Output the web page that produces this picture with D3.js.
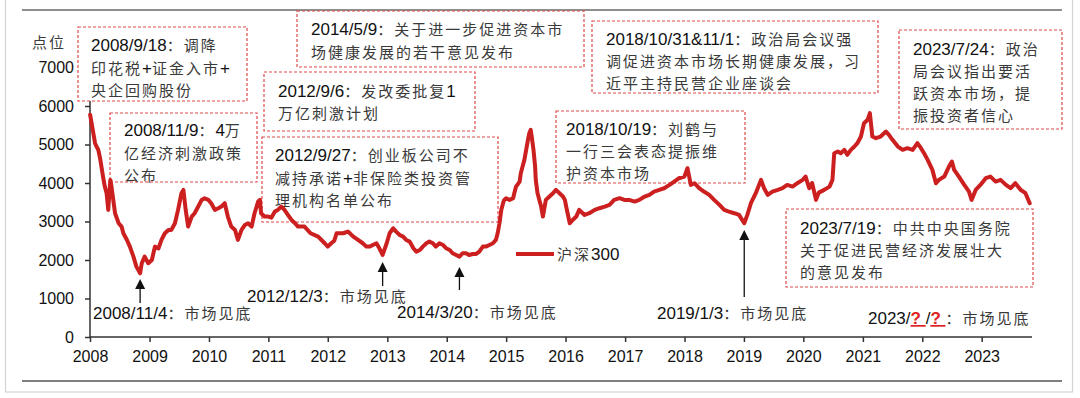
<!DOCTYPE html>
<html><head><meta charset="utf-8">
<script src="https://cdn.jsdelivr.net/npm/d3@7"></script>
<style>
html,body{margin:0;padding:0;background:#fff;}
svg{display:block;}
</style></head>
<body>
<svg id="chart" width="1080" height="398"></svg>
<script>
// ---------- DATA ----------
const seriesName = "沪深300";
const dates = [
"2008-01-02","2008-02-01","2008-02-10","2008-02-21","2008-03-03","2008-03-21","2008-04-01","2008-04-12","2008-04-22","2008-05-05",
"2008-05-12","2008-05-23","2008-06-03","2008-06-25","2008-07-13","2008-07-24","2008-08-15","2008-09-02","2008-09-24","2008-10-12",
"2008-11-04","2008-11-14","2008-12-02","2008-12-24","2009-01-15","2009-02-03","2009-02-25","2009-03-15","2009-04-05","2009-04-27",
"2009-05-15","2009-06-06","2009-06-25","2009-07-16","2009-07-28","2009-08-11","2009-08-26","2009-09-17","2009-10-05","2009-10-27",
"2009-11-17","2009-12-05","2009-12-28","2010-01-15","2010-02-06","2010-02-28","2010-03-18","2010-04-08","2010-04-27","2010-05-18",
"2010-06-10","2010-06-28","2010-07-20","2010-08-10","2010-08-29","2010-09-20","2010-10-08","2010-10-30","2010-11-10","2010-11-17",
"2010-12-09","2010-12-31","2011-01-19","2011-02-10","2011-02-28","2011-03-22","2011-04-10","2011-05-01","2011-05-23","2011-06-14",
"2011-07-02","2011-08-11","2011-09-17","2011-11-03","2011-12-13","2012-01-01","2012-01-22","2012-02-10","2012-02-24","2012-04-05",
"2012-05-04","2012-06-06","2012-07-05","2012-08-03","2012-08-25","2012-09-16","2012-10-04","2012-10-26","2012-11-13","2012-12-03",
"2012-12-28","2013-01-15","2013-02-06","2013-02-24","2013-03-18","2013-04-08","2013-04-27","2013-05-18","2013-06-10","2013-06-28",
"2013-07-20","2013-08-07","2013-08-29","2013-09-16","2013-10-08","2013-10-26","2013-11-17","2013-12-09","2013-12-28","2014-01-19",
"2014-02-06","2014-02-28","2014-03-20","2014-04-08","2014-04-30","2014-05-18","2014-06-10","2014-07-01","2014-07-20","2014-08-11",
"2014-08-29","2014-09-20","2014-10-12","2014-10-30","2014-11-10","2014-11-21","2014-12-02","2014-12-13","2014-12-20","2015-01-01",
"2015-01-22","2015-02-13","2015-02-20","2015-03-03","2015-03-25","2015-04-01","2015-04-12","2015-04-23","2015-05-04","2015-05-15",
"2015-05-23","2015-06-01","2015-06-07","2015-06-18","2015-06-28","2015-07-02","2015-07-13","2015-07-24","2015-08-04","2015-08-15",
"2015-08-22","2015-09-02","2015-09-24","2015-10-16","2015-11-03","2015-11-25","2015-12-16","2015-12-28","2016-01-05","2016-01-27",
"2016-02-14","2016-03-07","2016-03-25","2016-04-27","2016-05-26","2016-06-28","2016-07-27","2016-08-29","2016-09-27","2016-10-26",
"2016-11-28","2016-12-27","2017-01-26","2017-02-28","2017-03-29","2017-05-01","2017-05-30","2017-06-28","2017-07-30","2017-08-29",
"2017-10-01","2017-10-30","2017-11-28","2017-12-31","2018-01-19","2018-02-09","2018-03-03","2018-04-01","2018-04-30","2018-06-02",
"2018-07-02","2018-08-04","2018-09-02","2018-10-01","2018-11-03","2018-12-02","2019-01-03","2019-01-22","2019-02-13","2019-03-15",
"2019-04-16","2019-05-05","2019-05-27","2019-06-25","2019-07-28","2019-08-26","2019-09-24","2019-10-27","2019-11-25","2019-12-28",
"2020-01-15","2020-02-06","2020-02-24","2020-03-19","2020-04-05","2020-05-08","2020-06-10","2020-06-28","2020-07-09","2020-07-31",
"2020-08-18","2020-09-09","2020-09-27","2020-10-19","2020-11-10","2020-11-28","2020-12-20","2021-01-08","2021-01-30","2021-02-13",
"2021-02-28","2021-03-22","2021-04-20","2021-05-23","2021-06-10","2021-07-02","2021-08-04","2021-09-02","2021-10-01","2021-11-03",
"2021-12-02","2021-12-24","2022-01-12","2022-02-03","2022-03-04","2022-03-26","2022-04-13","2022-05-16","2022-06-14","2022-07-02",
"2022-07-16","2022-08-14","2022-09-16","2022-10-15","2022-10-31","2022-11-25","2022-12-24","2023-01-26","2023-02-24","2023-03-28",
"2023-04-27","2023-05-30","2023-06-28","2023-07-27","2023-08-29","2023-09-27","2023-10-23"
];
const values = [
5771,5034,4947,4861,4644,4167,3907,3734,3301,4081,
3907,3561,3215,2955,2868,2695,2521,2348,2088,1828,
1655,1915,2088,1915,2001,2348,2300,2521,2695,2781,
2781,2955,3301,3734,3821,3301,2868,3128,3215,3388,
3561,3605,3561,3475,3301,3345,3388,3475,3128,2868,
2781,2521,2781,2911,2955,2868,3215,3518,3561,3215,
3128,3128,3100,3258,3301,3388,3301,3171,3041,2955,
2868,2868,2695,2608,2435,2348,2435,2500,2695,2695,
2738,2608,2521,2435,2348,2348,2391,2435,2305,2131,
2435,2695,2825,2738,2651,2608,2521,2478,2305,2218,
2261,2348,2435,2478,2435,2348,2435,2391,2305,2261,
2175,2131,2088,2175,2175,2131,2157,2157,2218,2348,
2348,2391,2435,2521,2695,2955,3301,3475,3561,3605,
3561,3605,3734,3907,4037,4254,4427,4601,4861,5121,
5294,5381,5207,4861,4427,4081,3734,3561,3388,3128,
3301,3561,3648,3734,3821,3734,3648,3561,3388,2955,
3041,3128,3301,3171,3215,3301,3345,3388,3431,3561,
3605,3561,3561,3518,3561,3648,3691,3778,3821,3864,
3951,4037,4124,4167,4384,3951,3994,3864,3778,3691,
3561,3431,3301,3258,3215,3171,2955,3171,3475,3734,
4081,3864,3691,3778,3821,3864,3951,3907,3994,4081,
4167,3864,4000,3561,3750,3821,3907,4081,4774,4817,
4774,4861,4731,4861,4947,5034,5207,5554,5641,5814,
5207,5164,5207,5337,5251,5121,4947,4861,4904,4861,
5034,4904,4774,4601,4341,3994,4081,4167,4427,4557,
4341,4167,3951,3778,3561,3821,3951,4124,4167,4037,
4081,3951,3864,3994,3821,3734,3474
];
const yTickValues = [0,1000,2000,3000,4000,5000,6000,7000];
const xTickYears = [2008,2009,2010,2011,2012,2013,2014,2015,2016,2017,2018,2019,2020,2021,2022,2023];
const yAxisTitle = "点位";

// event boxes: text lines
const boxTexts = [
  ["2008/9/18：调降","印花税+证金入市+","央企回购股份"],
  ["2008/11/9：4万","亿经济刺激政策","公布"],
  ["2012/9/6：发改委批复1","万亿刺激计划"],
  ["2012/9/27：创业板公司不","减持承诺+非保险类投资管","理机构名单公布"],
  ["2014/5/9：关于进一步促进资本市","场健康发展的若干意见发布"],
  ["2018/10/31&11/1：政治局会议强","调促进资本市场长期健康发展，习","近平主持民营企业座谈会"],
  ["2018/10/19：刘鹤与","一行三会表态提振维","护资本市场"],
  ["2023/7/24：政治","局会议指出要活","跃资本市场，提","振投资者信心"],
  ["2023/7/19：中共中央国务院","关于促进民营经济发展壮大","的意见发布"]
];
// market bottoms
const bottomDates = ["2008-11-04","2012-12-03","2014-03-20","2019-01-03"];
const bottomLabels = ["2008/11/4：市场见底","2012/12/3：市场见底","2014/3/20：市场见底","2019/1/3：市场见底"];

// ---------- LAYOUT (pixels) ----------
const boxLayout = [
  {x0:78, y0:27, x1:247, y1:101, tx:91, c1:45, lh:22.5},
  {x0:110,y0:113,x1:257, y1:182, tx:124,c1:130,lh:22.5},
  {x0:264,y0:72, x1:475, y1:131, tx:278,c1:91, lh:22},
  {x0:262,y0:137,x1:498, y1:222, tx:275,c1:155,lh:22.5},
  {x0:297,y0:11, x1:584, y1:67,  tx:311,c1:29, lh:23},
  {x0:592,y0:21, x1:878, y1:93,  tx:606,c1:39, lh:22},
  {x0:556,y0:111,x1:745, y1:183, tx:566,c1:129,lh:22},
  {x0:899,y0:30, x1:1062,y1:129, tx:913,c1:49, lh:22},
  {x0:786,y0:209,x1:1033,y1:287, tx:800,c1:228,lh:22}
];
const bottomLayout = [
  {tip:279, end:303, lx:93,  lc:313},
  {tip:262, end:286, lx:247, lc:296},
  {tip:267, end:290, lx:397, lc:312},
  {tip:230, end:297, lx:657, lc:313}
];

const RED = "#CC1F1F";
const BOXRED = "#E04848";
const LATIN = "'Liberation Sans', Arial, 'Noto Sans CJK SC', sans-serif";
const CJK = "'Noto Sans CJK SC', 'Liberation Sans', sans-serif";

const svg = d3.select("#chart");
const parse = d3.timeParse("%Y-%m-%d");
const data = dates.map((d,i)=>({date:parse(d), value:values[i]}));

const x = d3.scaleTime()
  .domain([new Date(2008,0,1), new Date(2023,9,31)])
  .range([90, 1031]);
const y = d3.scaleLinear().domain([0,7000]).range([337, 67.5]);

// frame
svg.append("rect").attr("x",5.5).attr("y",-2).attr("width",1067).attr("height",394)
  .attr("fill","none").attr("stroke","#d4d4d4").attr("stroke-width",1.2);
svg.append("line").attr("x1",22).attr("x2",1062).attr("y1",10).attr("y2",10)
  .attr("stroke","#6a6a6a").attr("stroke-width",1.6);
svg.append("line").attr("x1",22).attr("x2",1062).attr("y1",381).attr("y2",381)
  .attr("stroke","#555").attr("stroke-width",1.6);

// mixed text helper: splits CJK vs latin runs
function isCJK(ch){ return /[\u3000-\u9fff\uff00-\uffef]/.test(ch); }
function mixedText(sel, str){
  const runs=[]; let cur=null;
  for(const ch of str){
    const c = isCJK(ch);
    if(!cur || cur.c!==c){ cur={c, s:""}; runs.push(cur); }
    cur.s+=ch;
  }
  runs.forEach(r=>{
    const ts = sel.append("tspan").text(r.s);
    if(r.c){
      ts.attr("font-family",CJK).attr("fill","#3a3a3a").attr("font-size",15).attr("letter-spacing",2);
    } else {
      ts.attr("font-family",LATIN).attr("fill","#111").attr("font-size",17);
    }
  });
  return sel;
}

// axes
const yAxis = d3.axisLeft(y).tickValues(yTickValues).tickSize(5).tickPadding(11).tickFormat(d3.format("d"));
const gy = svg.append("g").attr("transform","translate(90,0)").call(yAxis);
gy.select(".domain").attr("stroke","#333").attr("stroke-width",1.5).attr("d","M0,337V67.5");
gy.selectAll(".tick line").attr("stroke","#333").attr("stroke-width",1.5);
gy.selectAll(".tick text").attr("font-family",LATIN).attr("font-size",16).attr("fill","#111");

const xAxis = d3.axisBottom(x).tickValues(xTickYears.map(yr=>new Date(yr,0,1)))
  .tickSize(5).tickPadding(9).tickFormat(d3.timeFormat("%Y"));
const gx = svg.append("g").attr("transform","translate(0,337)").call(xAxis);
gx.select(".domain").attr("stroke","#333").attr("stroke-width",1.5).attr("d","M90,0H1032");
gx.selectAll(".tick line").attr("stroke","#333").attr("stroke-width",1.5);
gx.selectAll(".tick text").attr("font-family",LATIN).attr("font-size",16).attr("fill","#111");

// y title
svg.append("text").attr("x",32).attr("y",48).attr("font-family",CJK).attr("font-size",15)
  .attr("fill","#3a3a3a").attr("letter-spacing",2).text(yAxisTitle);

// boxes
boxTexts.forEach((lines,i)=>{
  const L = boxLayout[i];
  svg.append("rect").attr("x",L.x0).attr("y",L.y0).attr("width",L.x1-L.x0).attr("height",L.y1-L.y0)
    .attr("fill","#fff").attr("stroke",BOXRED).attr("stroke-width",1.2).attr("stroke-dasharray","3,2");
  lines.forEach((ln,j)=>{
    const t = svg.append("text").attr("x",L.tx).attr("y",L.c1 + j*L.lh + 6);
    mixedText(t, ln);
  });
});

// series line
svg.append("path").datum(data)
  .attr("fill","none").attr("stroke",RED).attr("stroke-width",4)
  .attr("stroke-linejoin","round").attr("stroke-linecap","round")
  .attr("d", d3.line().x(d=>x(d.date)).y(d=>y(d.value)));

// legend
svg.append("line").attr("x1",516).attr("x2",554).attr("y1",254).attr("y2",254)
  .attr("stroke",RED).attr("stroke-width",4);
mixedText(svg.append("text").attr("x",557).attr("y",260), seriesName);

// bottom arrows + labels
bottomDates.forEach((d,i)=>{
  const L = bottomLayout[i];
  const ax = x(parse(d));
  svg.append("line").attr("x1",ax).attr("x2",ax).attr("y1",L.tip+8).attr("y2",L.end)
    .attr("stroke","#111").attr("stroke-width",1.3);
  svg.append("path").attr("d",`M${ax},${L.tip}L${ax-5},${L.tip+10}L${ax+5},${L.tip+10}Z`).attr("fill","#111");
  mixedText(svg.append("text").attr("x",L.lx).attr("y",L.lc+6), bottomLabels[i]);
});

// 2023 unknown bottom label
const t23 = svg.append("text").attr("x",868).attr("y",324);
t23.append("tspan").text("2023/").attr("font-family",LATIN).attr("font-size",17).attr("fill","#111");
t23.append("tspan").text("? ").attr("font-family",LATIN).attr("font-size",17).attr("font-weight","bold")
  .attr("fill","#e02020").attr("text-decoration","underline");
t23.append("tspan").text("/").attr("font-family",LATIN).attr("font-size",17).attr("fill","#111");
t23.append("tspan").text("? ").attr("font-family",LATIN).attr("font-size",17).attr("font-weight","bold")
  .attr("fill","#e02020").attr("text-decoration","underline");
mixedText(t23, "：市场见底");
</script>
</body></html>
